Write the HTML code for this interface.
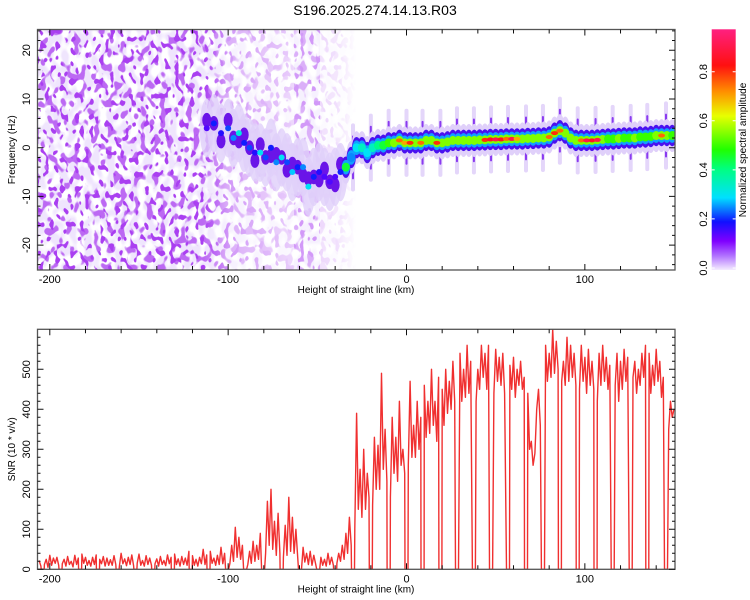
<!DOCTYPE html>
<html><head><meta charset="utf-8"><style>
html,body{margin:0;padding:0;background:#fff;}
svg{display:block;font-family:"Liberation Sans",sans-serif;}
</style></head><body>
<svg id="chart" width="750" height="600" viewBox="0 0 750 600" xmlns="http://www.w3.org/2000/svg">
<defs>
<filter id="nz1" x="0" y="0" width="100%" height="100%" filterUnits="userSpaceOnUse">
<feTurbulence type="fractalNoise" baseFrequency="0.13 0.09" numOctaves="1" seed="4"/>
<feColorMatrix type="matrix" values="0 0 0 0 0.86  0 0 0 0 0.78  0 0 0 0 0.98  6 0 0 0 -2.5"/>
</filter>
<filter id="nz2" x="0" y="0" width="100%" height="100%" filterUnits="userSpaceOnUse">
<feTurbulence type="fractalNoise" baseFrequency="0.15 0.11" numOctaves="1" seed="11"/>
<feColorMatrix type="matrix" values="0 0 0 0 0.5  0 0 0 0 0.14  0 0 0 0 0.9  14 0 0 0 -7.9"/>
</filter>
<filter id="nz3" x="0" y="0" width="100%" height="100%" filterUnits="userSpaceOnUse">
<feTurbulence type="fractalNoise" baseFrequency="0.2 0.14" numOctaves="1" seed="23"/>
<feColorMatrix type="matrix" values="0 0 0 0 0.4  0 0 0 0 0.05  0 0 0 0 0.88  18 0 0 0 -10.6"/>
</filter>
<linearGradient id="fadeG" x1="37.5" x2="675" gradientUnits="userSpaceOnUse">
<stop offset="0" stop-color="#fff"/><stop offset="0.26" stop-color="#fff"/>
<stop offset="0.3" stop-color="#888"/><stop offset="0.4" stop-color="#444"/>
<stop offset="0.47" stop-color="#2a2a2a"/><stop offset="0.5" stop-color="#000"/><stop offset="1" stop-color="#000"/>
</linearGradient>
<mask id="fadeM" maskUnits="userSpaceOnUse"><rect x="37.5" y="29.5" width="638" height="241" fill="url(#fadeG)"/>
<rect x="294" y="29.5" width="26" height="241" fill="#888"/></mask>
<clipPath id="clipTop"><rect x="37.5" y="29.5" width="637.5" height="240.5"/></clipPath>
<clipPath id="clipBot"><rect x="37.5" y="329.3" width="637.5" height="240"/></clipPath>
<linearGradient id="cbG" x1="0" y1="1" x2="0" y2="0">
<stop offset="0" stop-color="#f4ecff"/><stop offset="0.06" stop-color="#b070ff"/><stop offset="0.12" stop-color="#8000ff"/>
<stop offset="0.2" stop-color="#1010ff"/><stop offset="0.3" stop-color="#00e0ff"/><stop offset="0.42" stop-color="#00ff80"/>
<stop offset="0.5" stop-color="#20ff00"/><stop offset="0.64" stop-color="#e8ff00"/><stop offset="0.74" stop-color="#ff9000"/>
<stop offset="0.85" stop-color="#ff1010"/><stop offset="1" stop-color="#ff2080"/>
</linearGradient>
</defs>
<text x="375" y="15" text-anchor="middle" font-size="14">S196.2025.274.14.13.R03</text>
<g id="top">
<g clip-path="url(#clipTop)">
<g mask="url(#fadeM)">
<rect x="37.5" y="29.5" width="637.5" height="240.5" filter="url(#nz1)"/>
<rect x="37.5" y="29.5" width="637.5" height="240.5" filter="url(#nz2)"/>
<rect x="37.5" y="29.5" width="637.5" height="240.5" filter="url(#nz3)"/>
</g>
</g>
<g id="ridge" clip-path="url(#clipTop)"></g>
<g id="topAxes"></g>
</g>
<g id="bot">
<g clip-path="url(#clipBot)"><path id="snrLine" fill="none" stroke="#f03030" stroke-width="1.4" stroke-linejoin="round"/></g>
<g id="botAxes"></g>
</g>
<g id="cbar">
<rect x="711.7" y="29.3" width="24" height="240.7" fill="url(#cbG)"/>
<text transform="translate(746,150) rotate(-90)" text-anchor="middle" font-size="10">Normalized spectral amplitude</text>
</g>
</svg>
<script>
const NS='http://www.w3.org/2000/svg';
// ---- data ----
const snrStartKm=-206;
const snrValues=[22,8,30,12,25,5,35,10,28,15,
30,10,38,14,25,8,32,12,20,6,
35,12,28,9,38,15,30,10,22,8,
30,12,36,10,25,14,32,8,28,10,
24,10,34,12,28,8,40,14,26,9,
30,12,36,9,25,15,38,10,22,8,
34,12,28,10,40,14,26,8,32,12,
22,9,36,14,30,10,38,12,26,8,
32,12,28,10,45,16,34,10,25,8,
30,14,50,12,36,10,45,15,28,10,
35,12,55,14,40,10,48,15,60,20,
105,30,80,25,60,18,40,12,45,15,
70,20,60,25,90,30,150,40,170,60,
200,50,120,35,140,40,95,30,110,35,
180,45,130,40,100,30,75,20,55,18,
40,12,45,10,35,15,60,12,30,10,
25,8,40,12,30,10,45,15,40,20,
60,25,90,40,130,60,180,100,390,150,
250,130,300,150,240,180,320,160,330,200,
310,200,490,250,350,220,300,180,380,240,
330,220,420,260,300,240,380,260,470,280,
360,280,420,300,380,290,460,330,420,340,
500,360,420,320,480,380,450,360,500,390,
470,400,520,420,480,380,540,420,500,430,
560,440,520,460,540,420,500,450,560,480,
540,450,560,460,510,440,550,470,530,460,
540,440,520,470,510,450,530,430,500,460,
520,450,480,400,440,300,320,260,290,400,
450,360,480,420,560,470,540,480,600,490,
570,500,560,470,520,460,580,470,560,480,
540,460,520,450,560,470,530,440,550,460,
520,450,500,420,540,460,560,470,530,450,
510,440,500,460,540,420,520,450,550,470,
530,460,560,480,520,440,500,460,540,480,
560,470,540,440,510,460,550,470,520,430,
480,400,460,350,420,380,400];
const gapKm=[-204,-194,-183,-173,-162,-152,-142,-131,-121,-111,-100.6,-90.5,-80.4,-70,-59.7,-49.5,-40,-30,-20,-10,0,9,19,28.3,37.8,47.4,56.9,67,76.5,86,96,106,115.6,125.7,135,145.5];
const ridgeKm=[-112,-108,-104,-100,-97,-94,-91,-88,-85,-82,-79,-76,-73,-70,-67,-64,-61,-58,-55,-52,-49,-46,-43,-40,-37,-34,-31,-28,-25,-22,-19,-16,-13,-10,-7,-4,-1,2,5,8,11,14,17,20,23,26,29,32,35,38,41,44,47,50,53,56,59,62,65,68,71,74,77,80,83,86,89,92,95,98,101,104,107,110,113,116,119,122,125,128,131,134,137,140,143,146,149];
const ridgeFreq=[4,5,3,4,2,3,1,0,-1,-1,-2,0,-3,-2,-3,-5,-4,-4,-8,-6,-5,-6,-7,-6,-5,-4,-2,0,0,-1,0,0.5,0.5,1,1,1.5,1,1,1,1,1.5,1.5,1,1,1.2,1.5,1.5,1.5,1.5,1.5,1.6,1.6,1.7,1.7,1.7,1.8,1.8,1.8,1.8,1.9,1.9,2,2,2.2,3,3.5,3,2,1.5,1.5,1.5,1.5,1.6,1.7,1.8,1.8,1.9,2,2,2,2.2,2.2,2.3,2.5,2.5,2.5,2.5];
const ridgeAmp=[0.15,0.2,0.18,0.22,0.25,0.32,0.2,0.22,0.18,0.3,0.22,0.2,0.25,0.3,0.22,0.28,0.2,0.25,0.3,0.2,0.18,0.15,0.15,0.15,0.2,0.45,0.25,0.3,0.35,0.3,0.35,0.4,0.45,0.5,0.6,0.75,0.7,0.8,0.6,0.75,0.55,0.6,0.8,0.6,0.55,0.6,0.55,0.6,0.55,0.6,0.65,0.8,0.85,0.9,0.85,0.75,0.9,0.7,0.55,0.6,0.55,0.65,0.6,0.75,0.8,0.75,0.6,0.55,0.65,0.75,0.9,0.85,0.9,0.55,0.5,0.5,0.55,0.5,0.5,0.55,0.5,0.5,0.5,0.55,0.75,0.55,0.5];
const xTicksMajor=[-200,-100,0,100];
const freqTicks=[-20,-10,0,10,20];
const snrTicks=[0,100,200,300,400,500];
const cbTicks=[0,0.2,0.4,0.6,0.8];
const cbLabels=['0.0','0.2','0.4','0.6','0.8'];
// ---- scales ----
const X0=37.5,X1=675;
const xs=km=>406.5+1.7835*km;
const yf=f=>147.7-4.87*f;
const ys=v=>569.3-0.4*v;
const cmapStops=[[0,[244,236,255]],[0.06,[176,112,255]],[0.12,[128,0,255]],[0.2,[16,16,255]],[0.3,[0,224,255]],[0.42,[0,255,128]],[0.5,[32,255,0]],[0.64,[232,255,0]],[0.74,[255,144,0]],[0.85,[255,16,16]],[1,[255,32,128]]];
function cmap(a){a=Math.max(0,Math.min(1,a/0.97));for(let i=1;i<cmapStops.length;i++){const[p,c]=cmapStops[i],[q,d]=cmapStops[i-1];if(a<=p){const t=(a-q)/(p-q);return 'rgb('+d.map((v,k)=>Math.round(v+(c[k]-v)*t)).join(',')+')';}}return 'rgb(255,32,128)';}
function mk(tag,attrs,parent){const e=document.createElementNS(NS,tag);for(const k in attrs)e.setAttribute(k,attrs[k]);parent.appendChild(e);return e;}
// ---- ridge ----
const ridge=document.getElementById('ridge');
const n=Math.min(ridgeKm.length,ridgeFreq.length,ridgeAmp.length);
gapKm.forEach(g=>{if(g<-38)return;let best=0,bd=1e9;for(let i=0;i<n;i++){const d=Math.abs(ridgeKm[i]-g);if(d<bd){bd=d;best=i;}}
 const f=ridgeFreq[best];
 const s1=mk('rect',{x:xs(g)-2,y:yf(f+7),width:4,height:yf(f-7)-yf(f+7),fill:'#e4d6fa',rx:2},ridge);
 
 const s=mk('rect',{x:xs(g)-1,y:yf(f+4.5),width:2,height:yf(f-4.5)-yf(f+4.5),fill:'#8a3af0',rx:1},ridge);
 });
for(let i=0;i<n;i++){const wide=ridgeKm[i]<-35;
 const e=mk('ellipse',{cx:xs(ridgeKm[i]),cy:yf(ridgeFreq[i]),rx:wide?7:5,ry:(wide?6:3.4)*4.87,fill:'#e0d0fa',opacity:wide?0.8:1},ridge);
 }
for(let i=0;i<n;i++){const wide=ridgeKm[i]<-35;
 const e=mk('ellipse',{cx:xs(ridgeKm[i]),cy:yf(ridgeFreq[i])+(wide?((i%3)-1)*8:0),rx:wide?4.5:4.6,ry:(wide?1.5:2.2)*4.87,fill:wide?'#6a14e8':'#4a10f0'},ridge);
 }
for(let i=0;i<n;i++){if(ridgeKm[i]<-35)continue;
 const e=mk('ellipse',{cx:xs(ridgeKm[i]),cy:yf(ridgeFreq[i]),rx:4.2,ry:1.5*4.87,fill:'#10a0ff'},ridge);
 }
for(let i=0;i<n;i++){const wide=ridgeKm[i]<-35;
 const e=mk('ellipse',{cx:xs(ridgeKm[i]),cy:yf(ridgeFreq[i]),rx:wide?3:4,ry:wide?3:4.5,fill:cmap(Math.min(ridgeAmp[i],0.55))},ridge);
 }
for(let i=0;i<n;i++){if(ridgeAmp[i]<0.7)continue;
 const e=mk('ellipse',{cx:xs(ridgeKm[i]),cy:yf(ridgeFreq[i]),rx:3.5,ry:2,fill:cmap(ridgeAmp[i])},ridge);
 }
// ---- snr line ----
let pts=[];
for(let i=0;i<snrValues.length;i++){const km=snrStartKm+i;if(gapKm.some(g=>Math.abs(km-g)<0.9))continue;pts.push([km,snrValues[i]]);}
gapKm.forEach(g=>{pts.push([g-0.85,0]);pts.push([g+0.85,0]);});
pts.sort((a,b)=>a[0]-b[0]);
document.getElementById('snrLine').setAttribute('d','M'+pts.map(p=>xs(p[0]).toFixed(1)+','+ys(p[1]).toFixed(1)).join('L'));
// ---- axes ----
function axes(gid,top,bot,yTicks,yMap,minorStep,yMin,yMax,yLabel,name){
 const g=document.getElementById(gid);
 
 const fr=mk('rect',{x:X0,y:top,width:X1-X0,height:bot-top,fill:'none',stroke:'#555','stroke-width':1.3},g);
 
 for(let km=-200;km<=140;km+=20){const x=xs(km),L=xTicksMajor.includes(km)?6:4;
  const t=mk('path',{d:`M${x},${bot}v${-L}M${x},${top}v${L}`,stroke:'#111','stroke-width':1},g);
  }
 xTicksMajor.forEach(km=>{const t=mk('text',{x:xs(km),y:bot+13,'text-anchor':'middle','font-size':11},g);t.textContent=km;
  });
 for(let v=yMin;v<=yMax;v+=minorStep){const y=yMap(v),L=yTicks.includes(v)?6:3;
  const t=mk('path',{d:`M${X0},${y}h${L}M${X1},${y}h${-L}`,stroke:'#111','stroke-width':1},g);
  }
 yTicks.forEach(v=>{const y=yMap(v);const t=mk('text',{transform:`translate(30,${y}) rotate(-90)`,'text-anchor':'middle','font-size':11},g);t.textContent=v;
  });
 const xl=mk('text',{x:356,y:bot+23,'text-anchor':'middle','font-size':10},g);xl.textContent='Height of straight line (km)';
 
 const yl=mk('text',{transform:`translate(15,${(top+bot)/2}) rotate(-90)`,'text-anchor':'middle','font-size':10},g);yl.textContent=yLabel;
 
}
axes('topAxes',29.5,270,freqTicks,yf,2,-24,24,'Frequency (Hz)','spectrogram');
axes('botAxes',329.3,569.3,snrTicks,ys,20,0,580,'SNR (10 * v/v)','snr');
// ---- colorbar ticks ----
const cb=document.getElementById('cbar');
cbTicks.forEach((v,i)=>{const y=268-v*(268-71.7)/0.8;
 const t=mk('text',{transform:`translate(707,${y}) rotate(-90)`,'text-anchor':'middle','font-size':11},cb);t.textContent=cbLabels[i];
 
 const k=mk('path',{d:`M711.7,${y}h3M735.7,${y}h-3`,stroke:'#fff','stroke-width':1},cb);
 });
</script>
</body></html>
